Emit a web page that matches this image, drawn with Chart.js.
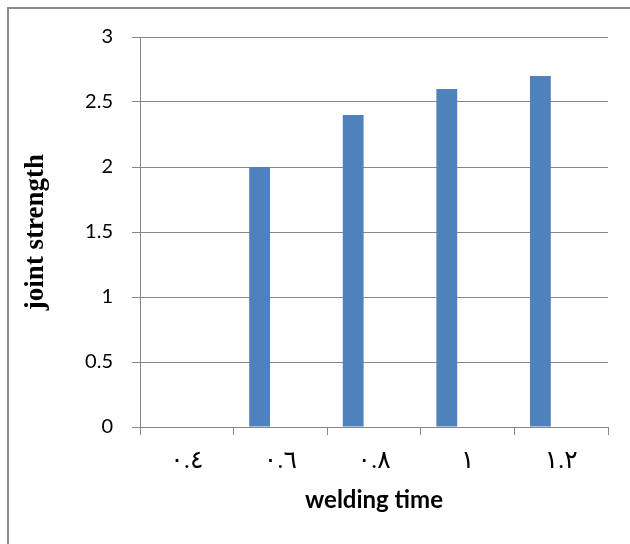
<!DOCTYPE html>
<html>
<head>
<meta charset="utf-8">
<script src="https://cdn.jsdelivr.net/npm/chart.js@4"></script>
<style>
  html, body { margin: 0; padding: 0; background: #fff; }
  #wrap { position: relative; width: 630px; height: 544px; }
  #frame {
    position: absolute; left: 7px; top: 7px; right: 0; bottom: 0;
    border-top: 2px solid #8a8a8a; border-left: 2px solid #8a8a8a;
  }
  canvas { position: absolute; left: 0; top: 0; }
</style>
</head>
<body>
<div id="wrap">
  <div id="frame"></div>
  <canvas id="strengthChart" width="630" height="544"></canvas>
</div>
<script>
// welding time categories (Arabic-Indic numerals) and measured joint strength
const weldingTimes = ["٠.٤", "٠.٦", "٠.٨", "١", "١.٢"];
const jointStrength = [null, 2, 2.4, 2.6, 2.7];
// the sheet has two more series with no values, they keep the bar slot
const series2 = [];
const series3 = [];
const yTicks = [0, 0.5, 1, 1.5, 2, 2.5, 3];

const axisGrey = "#878787";
const ctx = document.getElementById("strengthChart").getContext("2d");

new Chart(ctx, {
  type: "bar",
  data: {
    labels: weldingTimes,
    datasets: [
      { label: "Series1", data: jointStrength, backgroundColor: "#4f81bd" },
      { label: "Series2", data: series2, backgroundColor: "#c0504d" },
      { label: "Series3", data: series3, backgroundColor: "#9bbb59" },
    ],
  },
  options: {
    responsive: false,
    animation: false,
    layout: { padding: { left: 0, top: 37, right: 22, bottom: 0 } },
    datasets: {
      bar: { categoryPercentage: 0.667, barPercentage: 1 },
    },
    plugins: {
      legend: { display: false },
      tooltip: { enabled: false },
    },
    scales: {
      x: {
        offset: true,
        grid: {
          offset: true,
          drawOnChartArea: false,
          color: axisGrey,
          tickLength: 8,
        },
        border: { color: axisGrey },
        ticks: {
          color: "#000",
          padding: 11,
          font: { family: "'Liberation Serif', 'DejaVu Sans', serif", size: 25 },
        },
        title: {
          display: true,
          text: "welding time",
          color: "#000",
          font: { family: "Lato", size: 24, weight: "bold" },
          padding: { top: 0, bottom: 29 },
        },
        afterFit: (scale) => {
          scale.height = 117;
        },
      },
      y: {
        min: 0,
        max: 3,
        afterBuildTicks: (scale) => {
          scale.ticks = yTicks.map((v) => ({ value: v }));
        },
        grid: { color: axisGrey, tickLength: 8 },
        border: { color: axisGrey },
        ticks: {
          color: "#000",
          padding: 19,
          font: { family: "Lato", size: 20 },
          callback: (value) => String(value),
        },
        title: {
          display: true,
          text: "joint strength",
          color: "#000",
          font: { family: "'Liberation Serif', serif", size: 27, weight: "bold" },
          padding: { top: 20, bottom: 0 },
        },
        afterFit: (scale) => {
          scale.width = 140;
        },
      },
    },
  },
});
</script>
</body>
</html>
